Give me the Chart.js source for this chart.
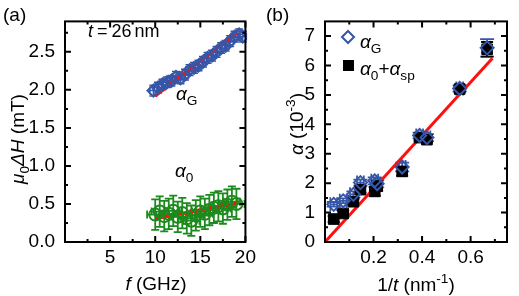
<!DOCTYPE html>
<html>
<head>
<meta charset="utf-8">
<script src="https://cdn.jsdelivr.net/npm/chart.js@4.4.1/dist/chart.umd.min.js"></script>
<style>
  html, body { margin: 0; padding: 0; background: #fff; }
  #wrap { position: relative; width: 519px; height: 296px; overflow: hidden; }
  #chartA { position: absolute; left: 0; top: 0; }
  #chartB { position: absolute; left: 260px; top: 0; }
</style>
</head>
<body>
<div id="wrap">
  <canvas id="chartA" width="260" height="296"></canvas>
  <canvas id="chartB" width="259" height="296"></canvas>
</div>
<script>
// --- (a) linewidth vs frequency, t = 26 nm ---
const freqG = [9.8, 10.3, 10.8, 11.3, 11.8, 12.3, 12.8, 13.3, 13.8, 14.3, 14.8, 15.3, 15.8, 16.3, 16.8, 17.3, 17.8, 18.3, 18.8, 19.3, 19.7];
const dHG   = [1.99, 2.03, 2.07, 2.10, 2.12, 2.17, 2.15, 2.20, 2.26, 2.29, 2.32, 2.37, 2.42, 2.45, 2.50, 2.55, 2.58, 2.64, 2.70, 2.73, 2.70];
const freq0 = [10, 10.5, 11, 11.5, 12, 12.5, 13, 13.5, 14, 14.5, 15, 15.5, 16, 16.5, 17, 17.5, 18, 18.5, 19];
const dH0   = [0.36, 0.40, 0.34, 0.37, 0.41, 0.33, 0.38, 0.31, 0.28, 0.35, 0.40, 0.37, 0.42, 0.45, 0.47, 0.44, 0.49, 0.53, 0.50];
const fitAX  = [10, 19];
const fitGY  = [1.92, 2.75];
const fit0Y  = [0.31, 0.51];
const aXTicks = [5, 10, 15, 20];
const aXMinor = [2.5, 7.5, 12.5, 17.5];
const aYTicks = [0, 0.5, 1, 1.5, 2, 2.5];
const aYMinor = [0.25, 0.75, 1.25, 1.75, 2.25, 2.75];

// --- (b) damping vs inverse thickness ---
const invT     = [0.036, 0.075, 0.117, 0.146, 0.205, 0.215, 0.318, 0.39, 0.42, 0.555, 0.668];
const alphaG   = [1.28, 1.40, 1.62, 2.02, 2.08, 1.98, 2.55, 3.62, 3.55, 5.22, 6.60];
const alphaSum = [0.78, 0.97, 1.37, 1.78, 1.72, 1.90, 2.40, 3.55, 3.48, 5.20, 6.55];
const errG     = [0.08, 0.08, 0.10, 0.10, 0.12, 0.12, 0.15, 0.10, 0.12, 0.10, 0.30];
const errSum   = [0.10, 0.10, 0.10, 0.10, 0.15, 0.15, 0.15, 0.10, 0.10, 0.10, 0.25];
const fitBX = [0, 0.69];
const fitBY = [0, 6.25];
const bXTicks = [0.2, 0.4, 0.6];
const bXMinor = [0.1, 0.3, 0.5, 0.7];
const bYTicks = [0, 1, 2, 3, 4, 5, 6, 7];
const bYMinor = [0.5, 1.5, 2.5, 3.5, 4.5, 5.5, 6.5];

const FONT = '"Liberation Sans", Arial, Helvetica, sans-serif';
const FS = 19;
const BLUE = '#3656a8';
const GREEN = '#1c8a1c';
const RED = '#ff1010';

const pts = (xs, ys) => xs.map((v, i) => ({ x: v, y: ys[i] }));

// text with italic / sub / sup pieces, drawn on the canvas
function richText(ctx, x, y, parts, size, align, rotate) {
  ctx.save();
  ctx.translate(x, y);
  if (rotate) ctx.rotate(-Math.PI / 2);
  const fontFor = p => {
    const s = (p.sub || p.sup) ? size * 0.72 : size;
    return (p.i ? 'italic ' : '') + s + 'px ' + FONT;
  };
  let total = 0;
  parts.forEach(p => { ctx.font = fontFor(p); total += ctx.measureText(p.t).width; });
  let cx = align === 'center' ? -total / 2 : 0;
  ctx.textAlign = 'left';
  ctx.textBaseline = 'alphabetic';
  ctx.fillStyle = '#000';
  parts.forEach(p => {
    ctx.font = fontFor(p);
    let dy = 0;
    if (p.sub) dy = size * 0.25;
    if (p.sup) dy = -size * 0.42;
    ctx.fillText(p.t, cx, dy);
    cx += ctx.measureText(p.t).width + (p.gap || 0);
  });
  ctx.restore();
}

const val = (arr, k) => Array.isArray(arr) ? arr[k] : (arr || 0);

// error bars under the markers
const errorBars = {
  id: 'errorBars',
  beforeDatasetsDraw(chart) {
    const { ctx, scales: { x, y } } = chart;
    chart.data.datasets.forEach(ds => {
      if (!ds.errX && !ds.errY) return;
      ctx.save();
      ctx.strokeStyle = ds.errColor;
      ctx.lineWidth = ds.errWidth || 1.3;
      const cap = ds.errCap || 4;
      ctx.beginPath();
      ds.data.forEach((p, k) => {
        const px = x.getPixelForValue(p.x);
        const py = y.getPixelForValue(p.y);
        const ey = val(ds.errY, k);
        const ex = val(ds.errX, k);
        if (ey) {
          const t = y.getPixelForValue(p.y + ey);
          const b = y.getPixelForValue(p.y - ey);
          ctx.moveTo(px, t); ctx.lineTo(px, b);
          ctx.moveTo(px - cap, t); ctx.lineTo(px + cap, t);
          ctx.moveTo(px - cap, b); ctx.lineTo(px + cap, b);
        }
        if (ex) {
          const l = x.getPixelForValue(p.x - ex);
          const r = x.getPixelForValue(p.x + ex);
          ctx.moveTo(l, py); ctx.lineTo(r, py);
          ctx.moveTo(l, py - cap); ctx.lineTo(l, py + cap);
          ctx.moveTo(r, py - cap); ctx.lineTo(r, py + cap);
        }
      });
      ctx.stroke();
      ctx.restore();
    });
  }
};

// closed frame with inward ticks on all four sides
function drawFrame(chart, xMajor, xMinor, yMajor, yMinor) {
  const { ctx, chartArea: a, scales: { x, y } } = chart;
  ctx.save();
  ctx.strokeStyle = '#000';
  ctx.lineWidth = 2;
  ctx.beginPath();
  const xt = (v, len) => {
    const px = x.getPixelForValue(v);
    ctx.moveTo(px, a.bottom); ctx.lineTo(px, a.bottom - len);
    ctx.moveTo(px, a.top); ctx.lineTo(px, a.top + len);
  };
  const yt = (v, len) => {
    const py = y.getPixelForValue(v);
    ctx.moveTo(a.left, py); ctx.lineTo(a.left + len, py);
    ctx.moveTo(a.right, py); ctx.lineTo(a.right - len, py);
  };
  xMajor.forEach(v => xt(v, 6));
  xMinor.forEach(v => xt(v, 3));
  yMajor.forEach(v => yt(v, 6));
  yMinor.forEach(v => yt(v, 3));
  ctx.stroke();
  ctx.strokeRect(a.left, a.top, a.right - a.left, a.bottom - a.top);
  ctx.restore();
}

function axisScale(min, max, ticks, fmt, fit, padding) {
  return {
    type: 'linear', min: min, max: max,
    afterBuildTicks: s => { s.ticks = ticks.map(v => ({ value: v })); },
    afterFit: fit,
    grid: { display: false, drawTicks: false },
    border: { display: false },
    ticks: { padding: padding, color: '#000', font: { family: FONT, size: FS }, callback: fmt }
  };
}

const decorA = {
  id: 'decorA',
  afterDraw(chart) {
    const ctx = chart.ctx;
    drawFrame(chart, aXTicks, aXMinor, aYTicks, aYMinor);
    richText(ctx, 3, 21, [{ t: '(a)' }], FS, 'left');
    // spacing done with gaps instead of space characters
    richText(ctx, 88, 37, [{ t: 't', i: true, gap: 4 }, { t: '=', gap: 4 }, { t: '26', gap: 3 }, { t: 'nm' }], 18, 'left');
    richText(ctx, 176, 100, [{ t: 'α', i: true }, { t: 'G', sub: true }], FS, 'left');
    richText(ctx, 175, 177, [{ t: 'α', i: true }, { t: '0', sub: true }], FS, 'left');
    richText(ctx, 156, 290, [{ t: 'f', i: true }, { t: ' (GHz)' }], FS, 'center');
    richText(ctx, 24, 139, [{ t: 'μ', i: true }, { t: '0', sub: true }, { t: 'ΔH', i: true }, { t: ' (mT)' }], FS, 'center', true);
  }
};

const decorB = {
  id: 'decorB',
  afterDraw(chart) {
    const ctx = chart.ctx;
    drawFrame(chart, bXTicks, bXMinor, bYTicks, bYMinor);
    richText(ctx, 6, 21, [{ t: '(b)' }], FS, 'left');
    // legend
    ctx.save();
    ctx.strokeStyle = BLUE; ctx.lineWidth = 2;
    ctx.beginPath();
    ctx.moveTo(82, 37); ctx.lineTo(88, 31); ctx.lineTo(94, 37); ctx.lineTo(88, 43); ctx.closePath();
    ctx.stroke();
    ctx.fillStyle = '#000';
    ctx.fillRect(83, 60, 11, 11);
    ctx.restore();
    richText(ctx, 100, 48, [{ t: 'α', i: true }, { t: 'G', sub: true }], FS, 'left');
    richText(ctx, 100, 75, [{ t: 'α', i: true }, { t: '0', sub: true }, { t: '+' }, { t: 'α', i: true }, { t: 'sp', sub: true }], FS, 'left');
    richText(ctx, 156, 291, [{ t: '1/' }, { t: 't', i: true }, { t: ' (nm' }, { t: '-1', sup: true }, { t: ')' }], FS, 'center');
    richText(ctx, 43, 124, [{ t: 'α', i: true }, { t: ' (10' }, { t: '-3', sup: true }, { t: ')' }], FS, 'center', true);
  }
};

new Chart(document.getElementById('chartA'), {
  type: 'scatter',
  data: {
    datasets: [
      { data: pts(freqG, dHG), pointStyle: 'rectRot', pointRadius: 6, borderColor: BLUE, backgroundColor: 'rgba(0,0,0,0)', borderWidth: 2,
        errY: 0.07, errX: 0.4, errColor: BLUE, errCap: 4, errWidth: 1.5 },
      { data: pts(freq0, dH0), pointStyle: 'circle', pointRadius: 6, borderColor: GREEN, backgroundColor: 'rgba(0,0,0,0)', borderWidth: 2,
        errY: 0.2, errX: 0.9, errColor: GREEN, errCap: 4, errWidth: 1.8 },
      { data: pts(fitAX, fitGY), showLine: true, pointRadius: 0, borderColor: RED, borderWidth: 3.5 },
      { data: pts(fitAX, fit0Y), showLine: true, pointRadius: 0, borderColor: RED, borderWidth: 3.5 }
    ]
  },
  options: {
    responsive: false,
    animation: false,
    layout: { padding: { left: 0, top: 6, right: 13, bottom: 0 } },
    plugins: { legend: { display: false }, tooltip: { enabled: false } },
    scales: {
      x: axisScale(0, 20, aXTicks, v => String(v), s => { s.height = 54; }, 4),
      y: axisScale(0, 2.9, aYTicks, v => v.toFixed(1), s => { s.width = 65; }, 10)
    }
  },
  plugins: [errorBars, decorA]
});

new Chart(document.getElementById('chartB'), {
  type: 'scatter',
  data: {
    datasets: [
      { data: pts(invT, alphaG), pointStyle: 'rectRot', pointRadius: 6.5, borderColor: BLUE, backgroundColor: 'rgba(0,0,0,0)', borderWidth: 2,
        errY: errG, errX: 0.014, errColor: BLUE, errCap: 7, errWidth: 1.8 },
      { data: pts(invT, alphaSum), pointStyle: 'rect', pointRadius: 7.5, borderColor: '#000', backgroundColor: '#000', borderWidth: 1,
        errY: errSum, errColor: '#000', errCap: 6, errWidth: 1.8 },
      { data: pts(fitBX, fitBY), showLine: true, pointRadius: 0, borderColor: RED, borderWidth: 3 }
    ]
  },
  options: {
    responsive: false,
    animation: false,
    layout: { padding: { left: 0, top: 6, right: 12, bottom: 0 } },
    plugins: { legend: { display: false }, tooltip: { enabled: false } },
    scales: {
      x: axisScale(0, 0.75, bXTicks, v => v.toFixed(1), s => { s.height = 54; }, 4),
      y: axisScale(0, 7.5, bYTicks, v => String(v), s => { s.width = 65; }, 10)
    }
  },
  plugins: [errorBars, decorB]
});
</script>
</body>
</html>
